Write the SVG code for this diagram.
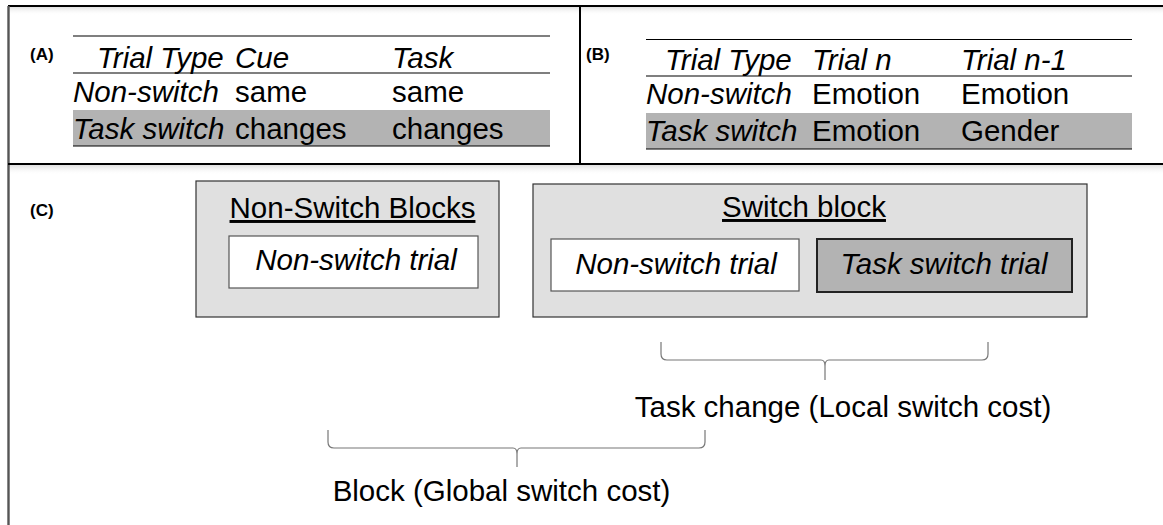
<svg xmlns="http://www.w3.org/2000/svg" width="1163" height="525" viewBox="0 0 1163 525">
  <defs>
    <linearGradient id="shade" x1="0" y1="0" x2="0" y2="1">
      <stop offset="0" stop-color="#d8d8d8" stop-opacity="0.8"/>
      <stop offset="1" stop-color="#ffffff" stop-opacity="0"/>
    </linearGradient>
    <style>
      .t { font-family: "Liberation Sans", Arial, sans-serif; font-size: 29.5px; fill: #000; }
      .i { font-style: italic; }
      .lbl { font-family: "Liberation Sans", Arial, sans-serif; font-size: 17px; font-weight: bold; fill: #000; }
      .rule { stroke: #000; stroke-width: 1.2; }
      .frame { stroke: #000; stroke-width: 2; fill: none; }
      .hl { fill: #b3b3b3; }
      .block { fill: #e0e0e0; stroke: #333; stroke-width: 1.2; }
      .trial { fill: #fff; stroke: #555; stroke-width: 1.2; }
      .trialsw { fill: #b3b3b3; stroke: #222; stroke-width: 2; }
      .brace { fill: none; stroke: #777; stroke-width: 1.2; }
    </style>
  </defs>
  <rect width="1163" height="525" fill="#fff"/>

  <!-- frame and panel dividers -->
  <g id="frame">
    <rect x="9" y="7" width="1154" height="8" fill="url(#shade)"/>
    <rect x="9" y="165" width="1154" height="10" fill="url(#shade)"/>
    <line class="frame" x1="8" y1="6" x2="1163" y2="6"/>
    <line x1="8.5" y1="6" x2="8.5" y2="525" stroke="#555" stroke-width="2.4"/>
    <line class="frame" x1="580" y1="6" x2="580" y2="164"/>
    <line class="frame" x1="8" y1="164" x2="1163" y2="164"/>
  </g>

  <!-- panel A: cue/task table -->
  <g id="tableA">
    <text class="lbl" x="30" y="60">(A)</text>
    <rect class="hl" x="73" y="110" width="477" height="36"/>
    <line class="rule" x1="73" y1="36" x2="550" y2="36"/>
    <line class="rule" x1="73" y1="73" x2="550" y2="73"/>
    <line class="rule" x1="73" y1="146" x2="550" y2="146"/>
    <text class="t i" x="97" y="68">Trial Type</text>
    <text class="t i" x="235" y="68">Cue</text>
    <text class="t i" x="392" y="68">Task</text>
    <text class="t i" x="73" y="102">Non-switch</text>
    <text class="t" x="235" y="102">same</text>
    <text class="t" x="392" y="102">same</text>
    <text class="t i" x="73" y="139">Task switch</text>
    <text class="t" x="235" y="139">changes</text>
    <text class="t" x="392" y="139">changes</text>
  </g>

  <!-- panel B: trial n / n-1 table -->
  <g id="tableB">
    <text class="lbl" x="586" y="60">(B)</text>
    <rect class="hl" x="646" y="113" width="486" height="36"/>
    <line class="rule" x1="646" y1="39.5" x2="1132" y2="39.5"/>
    <line class="rule" x1="646" y1="76" x2="1132" y2="76"/>
    <line class="rule" x1="646" y1="149" x2="1132" y2="149"/>
    <text class="t i" x="665" y="70">Trial Type</text>
    <text class="t i" x="812" y="70">Trial n</text>
    <text class="t i" x="961" y="70">Trial n-1</text>
    <text class="t i" x="646" y="104">Non-switch</text>
    <text class="t" x="812" y="104">Emotion</text>
    <text class="t" x="961" y="104">Emotion</text>
    <text class="t i" x="646" y="141">Task switch</text>
    <text class="t" x="812" y="141">Emotion</text>
    <text class="t" x="961" y="141">Gender</text>
  </g>

  <!-- panel C: block structure -->
  <text class="lbl" x="30" y="216">(C)</text>

  <g id="nonSwitchBlocks">
    <rect class="block" x="196" y="181" width="303" height="136"/>
    <text class="t" x="352.5" y="218" text-anchor="middle" text-decoration="underline">Non-Switch Blocks</text>
    <rect class="trial" x="229" y="236" width="249" height="52"/>
    <text class="t i" x="356" y="270" text-anchor="middle">Non-switch trial</text>
  </g>

  <g id="switchBlock">
    <rect class="block" x="533" y="184" width="554" height="133"/>
    <text class="t" x="804" y="217" text-anchor="middle" text-decoration="underline">Switch block</text>
    <rect class="trial" x="551" y="239" width="248" height="52"/>
    <text class="t i" x="676" y="274" text-anchor="middle">Non-switch trial</text>
    <rect class="trialsw" x="817" y="239" width="255" height="53"/>
    <text class="t i" x="944" y="274" text-anchor="middle">Task switch trial</text>
  </g>

  <!-- braces -->
  <g id="connectors">
    <path class="brace" d="M661 342 V354 Q661 360 667 360 H821 Q825 360 825 366 V380 V366 Q825 360 829 360 H982 Q988 360 988 354 V342"/>
    <path class="brace" d="M328 430 V442 Q328 448 334 448 H513 Q517 448 517 454 V467 V454 Q517 448 521 448 H699 Q705 448 705 442 V430"/>
  </g>

  <g id="localCost">
    <text class="t" x="843" y="417" text-anchor="middle">Task change (Local switch cost)</text>
  </g>
  <g id="globalCost">
    <text class="t" x="501.5" y="501" text-anchor="middle">Block (Global switch cost)</text>
  </g>
</svg>
